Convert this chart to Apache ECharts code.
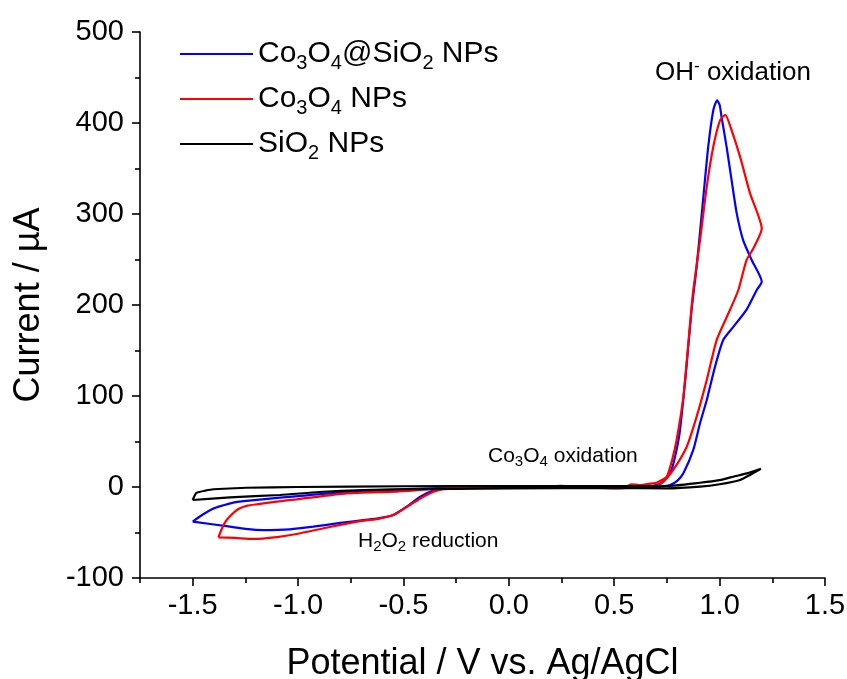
<!DOCTYPE html>
<html>
<head>
<meta charset="utf-8">
<script src="https://cdn.jsdelivr.net/npm/echarts@6/dist/echarts.min.js"></script>
<style>html,body{margin:0;padding:0;background:#fff}#c{width:847px;height:679px}</style>
</head>
<body>
<div id="c"></div>
<script>
// ---- data ----
const seriesNames = ['Co3O4@SiO2 NPs', 'Co3O4 NPs', 'SiO2 NPs'];
const xMajorTicks = [-1.5, -1.0, -0.5, 0.0, 0.5, 1.0, 1.5];
const xMinorTicks = [-1.75, -1.25, -0.75, -0.25, 0.25, 0.75, 1.25];
const yTicks = [-100, 0, 100, 200, 300, 400, 500];

// Co3O4@SiO2 NPs (blue): [potential V, current uA]
const cvCoSi = [
  [-1.5,-38],[-1.45,-30],[-1.40,-23.5],[-1.33,-18.5],[-1.28,-16],[-1.17,-13.5],[-1.0,-10],[-0.85,-7],
  [-0.6,-3.5],[-0.37,-1.5],[-0.2,-0.5],[0.0,0],[0.18,0.5],[0.25,1.2],[0.3,0.6],[0.5,0],[0.65,0.5],
  [0.70,2],[0.725,4.7],[0.75,10],[0.772,18.7],[0.795,40],[0.812,62.6],[0.84,125],[0.867,194.5],
  [0.891,242],[0.923,319],[0.946,374],[0.97,414],[0.988,425],[1.0,420],[1.009,407],[1.033,374],
  [1.057,337],[1.081,301],[1.112,271],[1.152,249.5],[1.2,225.6],
  [1.176,216.5],[1.128,195],[1.065,176],[1.017,161.5],[0.978,132],[0.939,95.6],[0.907,70],[0.875,40.7],
  [0.828,15],[0.80,7],[0.765,2.2],[0.7,0],[0.5,-0.5],[0.2,-0.3],[0.0,-0.5],[-0.2,-0.8],[-0.311,-1.5],
  [-0.36,-4],[-0.42,-10.7],[-0.485,-21.7],[-0.548,-30.8],[-0.62,-34.5],[-0.69,-36.3],[-0.8,-39.5],
  [-0.928,-43.6],[-1.038,-46.5],[-1.165,-47.3],[-1.25,-46],[-1.323,-43.6],[-1.5,-38]
];
// Co3O4 NPs (red)
const cvCo = [
  [-1.378,-55.3],[-1.36,-45],[-1.339,-36.3],[-1.3,-27],[-1.276,-23.4],[-1.24,-20.5],[-1.196,-19],[-1.1,-16],
  [-1.007,-13.6],[-0.769,-7],[-0.532,-5],[-0.374,-2.5],[-0.2,-0.8],[0,0],[0.3,0],[0.5,-1.5],[0.55,-1],
  [0.58,3],[0.62,2],[0.68,4],[0.701,4.7],[0.749,11.3],[0.775,30],[0.796,51.6],[0.828,99],[0.86,180],
  [0.875,216],[0.907,271],[0.939,330],[0.97,374],[1.002,403],[1.027,409],[1.057,392],[1.097,363],
  [1.144,323],[1.2,284],
  [1.16,262],[1.128,249.5],[1.089,216.5],[1.049,194.5],[0.986,161.5],[0.939,117.6],[0.891,77.3],
  [0.844,44.3],[0.78,18.7],[0.733,5.8],[0.7,1],[0.6,-1],[0.4,-0.5],[0.0,-0.5],[-0.2,-1],[-0.311,-2.5],
  [-0.36,-5.5],[-0.406,-10.7],[-0.469,-19.8],[-0.548,-30.8],[-0.62,-35],[-0.69,-37],[-0.85,-44],
  [-1.007,-51.6],[-1.1,-55],[-1.212,-57.1],[-1.3,-56],[-1.378,-55.3]
];
// SiO2 NPs (black)
const cvSi = [
  [-1.5,-14.3],[-1.49,-9],[-1.481,-6.3],[-1.44,-4],[-1.402,-2.5],[-1.244,-0.8],[-1.0,0],[-0.5,0.8],
  [0,1],[0.5,1],[0.749,1.1],[0.907,4.7],[1.0,7.5],[1.065,11.3],[1.13,15],[1.196,20],
  [1.15,14],[1.097,7.7],[1.0,3],[0.907,0.4],[0.75,-1.5],[0.5,-1],[0,-1.5],[-0.5,-2.5],[-0.69,-3.3],
  [-0.9,-5.5],[-1.086,-8.8],[-1.323,-11.3],[-1.5,-14.3]
];

const FONT = '"Liberation Sans", Arial, sans-serif';
const legendRich = {
  'Co3O4@SiO2 NPs': '{m|Co}{s|3}{m|O}{s|4}{m|@SiO}{s|2}{m| NPs}',
  'Co3O4 NPs': '{m|Co}{s|3}{m|O}{s|4}{m| NPs}',
  'SiO2 NPs': '{m|SiO}{s|2}{m| NPs}'
};

const chart = echarts.init(document.getElementById('c'), null, {renderer: 'canvas'});
const axisBlack = {color: '#000', width: 1.6};
chart.setOption({
  animation: false,
  backgroundColor: '#fff',
  grid: {left: 140, right: 22, top: 32, bottom: 101, containLabel: false, outerBoundsMode: 'none'},
  legend: {
    orient: 'vertical', left: 180, top: 39, padding: 0, itemGap: 11,
    itemWidth: 73, itemHeight: 2, icon: 'rect',
    data: seriesNames,
    formatter: name => legendRich[name],
    textStyle: {
      fontFamily: FONT, color: '#000',
      rich: {
        m: {fontSize: 30, lineHeight: 38, fontFamily: FONT, color: '#000'},
        s: {fontSize: 20, lineHeight: 20, verticalAlign: 'bottom', fontFamily: FONT, color: '#000'}
      }
    }
  },
  xAxis: [{
    type: 'value', min: -1.75, max: 1.5, position: 'bottom',
    axisLine: {onZero: false, lineStyle: axisBlack},
    axisTick: {customValues: xMajorTicks, length: 8, lineStyle: axisBlack},
    axisLabel: {customValues: xMajorTicks, formatter: v => v.toFixed(1), fontSize: 29, color: '#000', margin: 13, fontFamily: FONT},
    splitLine: {show: false},
    name: 'Potential / V vs. Ag/AgCl', nameLocation: 'middle', nameGap: 68, nameMoveOverlap: false,
    nameTextStyle: {fontSize: 36, color: '#000', fontFamily: FONT}
  }, {
    type: 'value', min: -1.75, max: 1.5, position: 'bottom',
    axisLine: {show: false, onZero: false},
    axisTick: {customValues: xMinorTicks, length: 5, lineStyle: axisBlack},
    axisLabel: {show: false}, splitLine: {show: false}
  }],
  yAxis: {
    type: 'value', min: yTicks[0], max: yTicks[yTicks.length - 1], interval: 100,
    axisLine: {show: true, onZero: false, lineStyle: axisBlack},
    axisTick: {show: true, length: 8, lineStyle: axisBlack},
    minorTick: {show: true, splitNumber: 2, length: 5, lineStyle: axisBlack},
    axisLabel: {fontSize: 29, color: '#000', margin: 16, fontFamily: FONT},
    splitLine: {show: false},
    name: 'Current / \u00b5A', nameLocation: 'middle', nameGap: 93, nameRotate: 90, nameMoveOverlap: false,
    nameTextStyle: {fontSize: 36, color: '#000', fontFamily: FONT}
  },
  series: [
    {name: seriesNames[0], type: 'line', data: cvCoSi, showSymbol: false, smooth: 0.2, color: '#0000ff', lineStyle: {width: 2.2, color: '#0000ff'}},
    {name: seriesNames[1], type: 'line', data: cvCo, showSymbol: false, smooth: 0.2, color: '#ff0000', lineStyle: {width: 2.2, color: '#ff0000'}},
    {name: seriesNames[2], type: 'line', data: cvSi, showSymbol: false, smooth: 0.2, color: '#000000', lineStyle: {width: 2.2, color: '#000000'}}
  ],
  graphic: [
    {type: 'text', left: 655, top: 58, style: {
      text: '{m|OH}{p|-}{m| oxidation}', fill: '#000',
      rich: {m: {fontSize: 26, lineHeight: 30, fontFamily: FONT, fill: '#000'}, p: {fontSize: 17, lineHeight: 16, verticalAlign: 'top', fontFamily: FONT, fill: '#000'}}
    }},
    {type: 'text', left: 488, top: 446, style: {
      text: '{m|Co}{s|3}{m|O}{s|4}{m| oxidation}', fill: '#000',
      rich: {m: {fontSize: 21, lineHeight: 26, fontFamily: FONT, fill: '#000'}, s: {fontSize: 15, lineHeight: 15, verticalAlign: 'bottom', fontFamily: FONT, fill: '#000'}}
    }},
    {type: 'text', left: 358, top: 531, style: {
      text: '{m|H}{s|2}{m|O}{s|2}{m| reduction}', fill: '#000',
      rich: {m: {fontSize: 21, lineHeight: 26, fontFamily: FONT, fill: '#000'}, s: {fontSize: 15, lineHeight: 15, verticalAlign: 'bottom', fontFamily: FONT, fill: '#000'}}
    }}
  ]
});
</script>
</body>
</html>
